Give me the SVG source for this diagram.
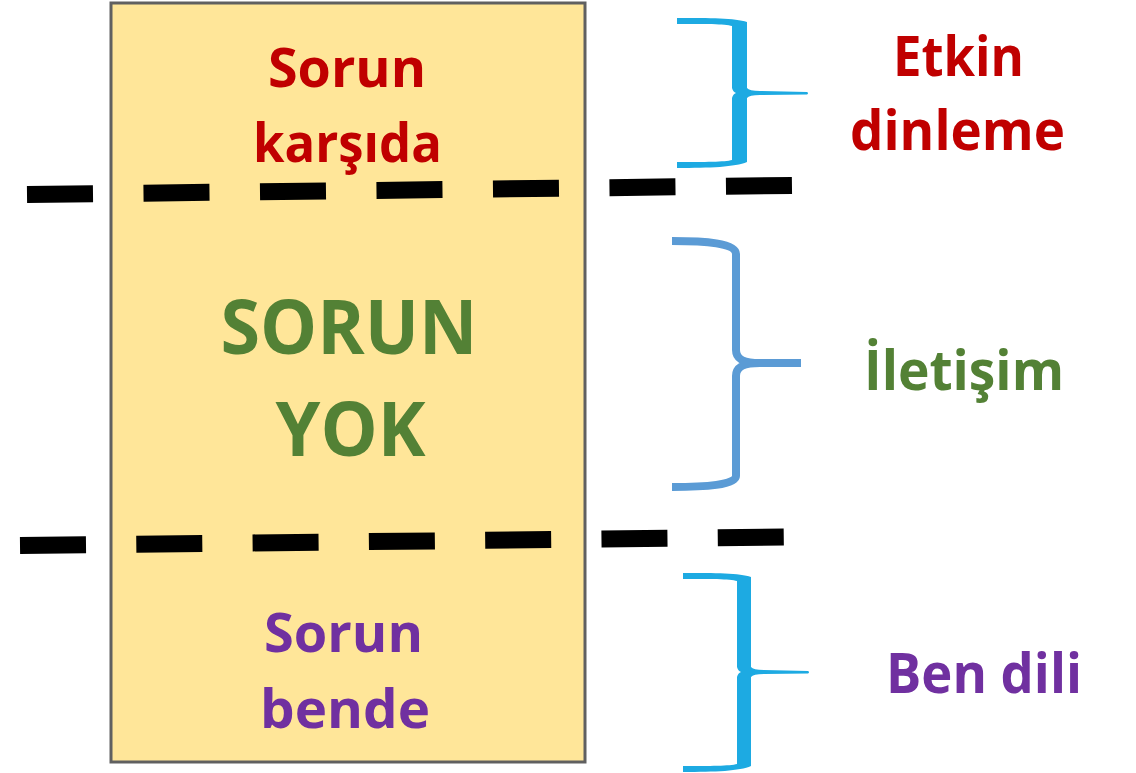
<svg xmlns="http://www.w3.org/2000/svg" width="1136" height="773" viewBox="0 0 1136 773">
  <style>
    .t { font-family: "Open Sans", "Noto Sans", "DejaVu Sans", sans-serif; font-weight: 700; text-anchor: middle; }
    .red { fill: #C00000; }
    .green { fill: #538135; }
    .purple { fill: #7030A0; }
    .dash { fill: none; stroke: #000000; stroke-width: 17; }
    .cyan { fill: #1DAAE2; }
  </style>
  <rect x="0" y="0" width="1136" height="773" fill="#FFFFFF"/>
  <g id="box">
    <rect x="111" y="3" width="474" height="759" fill="#FFE699" stroke="#606060" stroke-width="3"/>
  </g>
  <g id="dividers">
    <line class="dash" x1="27" y1="194.5" x2="792" y2="185.5" stroke-dasharray="66 50.5"/>
    <line class="dash" x1="20" y1="545.5" x2="784" y2="537" stroke-dasharray="66 50.3"/>
  </g>
  <g id="connectors">
    <path id="brace-top" class="cyan" d="M677,18 C710,18 735,18 747,22 L747,88 Q749,91 760,91 L807,92 Q809,93 807,94.5 L760,95 Q749,95 747,98 L747,162 C735,167 710,168 677,168 L677,162 C705,162 725,162 732,160 L732,98 Q733,94 736,93 Q733,92 732,88 L732,26 C725,24 705,24 677,24 Z"/>
    <path id="brace-mid" d="M672,241 C705,241 736,243 736,254 L736,350 C736,360 745,363 760,363 L801,363 M760,363 C745,363 736,366 736,376 L736,476 C736,485 705,487 672,487" fill="none" stroke="#5B9BD5" stroke-width="8"/>
    <path id="brace-bottom" class="cyan" d="M683,573 C715,573 740,573 751,577 L751,667 Q753,670 764,670 L808,671 Q810,672 808,673.5 L764,674 Q753,674 751,677 L751,766 C740,771 715,772 683,772 L683,766 C710,766 730,766 737,764 L737,677 Q738,673 741,672 Q738,671 737,667 L737,581 C730,579 710,579 683,579 Z"/>
  </g>
  <g id="node-sorun-karsida">
    <text class="t red" x="347" y="87" font-size="54" textLength="158" lengthAdjust="spacingAndGlyphs">Sorun</text>
    <text class="t red" x="347.5" y="162" font-size="53" textLength="189" lengthAdjust="spacingAndGlyphs">karşıda</text>
  </g>
  <g id="node-sorun-yok">
    <text class="t green" x="349" y="354" font-size="75" textLength="257" lengthAdjust="spacingAndGlyphs">SORUN</text>
    <text class="t green" x="350.5" y="456" font-size="75" textLength="150" lengthAdjust="spacingAndGlyphs">YOK</text>
  </g>
  <g id="node-sorun-bende">
    <text class="t purple" x="343.5" y="652" font-size="54" textLength="159" lengthAdjust="spacingAndGlyphs">Sorun</text>
    <text class="t purple" x="345" y="728" font-size="54" textLength="170" lengthAdjust="spacingAndGlyphs">bende</text>
  </g>
  <g id="node-etkin-dinleme">
    <text class="t red" x="958.5" y="76" font-size="56" textLength="131" lengthAdjust="spacingAndGlyphs">Etkin</text>
    <text class="t red" x="957.5" y="150" font-size="56" textLength="215" lengthAdjust="spacingAndGlyphs">dinleme</text>
  </g>
  <g id="node-iletisim">
    <text class="t green" x="964" y="390" font-size="56" textLength="200" lengthAdjust="spacingAndGlyphs">İletişim</text>
  </g>
  <g id="node-ben-dili">
    <text class="t purple" x="984" y="693" font-size="56" textLength="196" lengthAdjust="spacingAndGlyphs">Ben dili</text>
  </g>
</svg>
